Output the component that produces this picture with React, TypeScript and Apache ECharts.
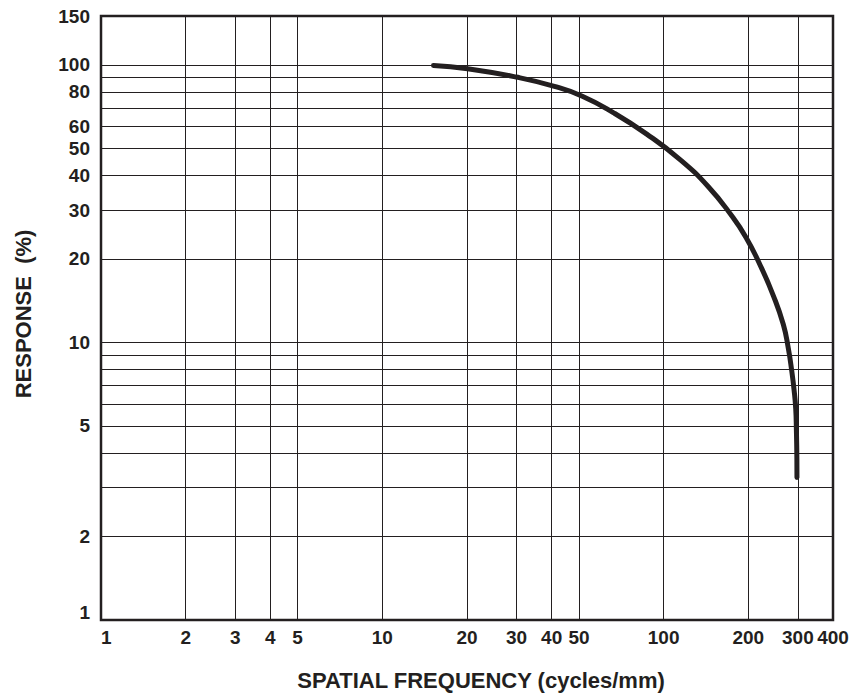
import React, { useEffect, useRef } from "react";
import * as echarts from "echarts";

// Tick labels and grid lines (real values)
const X_LABELS = [1, 2, 3, 4, 5, 10, 20, 30, 40, 50, 100, 200, 300, 400];
const X_GRID = [2, 3, 4, 5, 10, 20, 30, 40, 50, 100, 200, 300];
const Y_LABELS = [1, 2, 5, 10, 20, 30, 40, 50, 60, 80, 100, 150];
const Y_GRID = [2, 3, 4, 5, 6, 7, 8, 9, 10, 20, 30, 40, 50, 60, 70, 80, 90, 100];

// Response curve (spatial frequency in cycles/mm, response in %)
const FREQ = [15.2, 20.1, 29.9, 40.9, 51.4, 66.2, 87.1, 114.4, 144.2, 174.6, 196.3, 220.0, 245.4, 266.4, 277.5, 285.3, 290.8, 294.8, 296.4, 297.6, 297.8];
const RESP = [99.5, 96.9, 90.4, 83.7, 77.1, 67.3, 56.3, 45.6, 36.4, 28.6, 23.9, 19.05, 14.75, 11.6, 9.52, 7.91, 6.76, 5.78, 4.86, 3.82, 3.26];

const X_MIN = 1;
const X_MAX = 400;
const Y_MIN = 1;
const Y_MAX = 150;

const INK = "#231f20";
const FONT = "'Liberation Sans', Arial, Helvetica, sans-serif";

const lg = (v: number) => Math.log10(v);

export default function App() {
  const ref = useRef<HTMLDivElement>(null);

  useEffect(() => {
    if (!ref.current) return;
    const chart = echarts.init(ref.current, undefined, { renderer: "svg" });
    const data = FREQ.map((f, i) => [lg(f), lg(RESP[i])]);
    const fmt = (v: number) => String(Math.round(Math.pow(10, v)));

    chart.setOption({
      animation: false,
      backgroundColor: "#ffffff",
      grid: {
        left: 101,
        right: 22,
        top: 16,
        bottom: 73,
        show: true,
        borderColor: INK,
        borderWidth: 2.5,
        containLabel: false,
      },
      xAxis: {
        type: "value",
        min: lg(X_MIN),
        max: lg(X_MAX),
        axisLine: { show: false },
        axisTick: { show: false, customValues: X_GRID.map(lg) },
        splitLine: { show: true, lineStyle: { color: INK, width: 1 } },
        axisLabel: {
          customValues: X_LABELS.map(lg),
          formatter: fmt,
          color: INK,
          fontFamily: FONT,
          fontWeight: "bold",
          fontSize: 19,
          margin: 8,
          alignMinLabel: "left",
          alignMaxLabel: "center",
          showMinLabel: true,
          showMaxLabel: true,
          hideOverlap: false,
        },
        name: "SPATIAL FREQUENCY (cycles/mm)",
        nameLocation: "middle",
        nameGap: 49,
        nameTextStyle: {
          color: INK,
          fontFamily: FONT,
          fontWeight: "bold",
          fontSize: 22,
          padding: [0, 0, 0, 28],
        },
      },
      yAxis: {
        type: "value",
        min: lg(Y_MIN),
        max: lg(Y_MAX),
        axisLine: { show: false },
        axisTick: { show: false, customValues: Y_GRID.map(lg) },
        splitLine: { show: true, lineStyle: { color: INK, width: 1 } },
        axisLabel: {
          customValues: Y_LABELS.map(lg),
          formatter: (v: number) => {
            const s = fmt(v);
            return s === "1" ? "{lo|1}" : s;
          },
          rich: {
            lo: {
              color: INK,
              fontFamily: FONT,
              fontWeight: "bold",
              fontSize: 19,
              padding: [0, 0, 16, 0],
            },
          },
          color: INK,
          fontFamily: FONT,
          fontWeight: "bold",
          fontSize: 19,
          margin: 11,
          showMinLabel: true,
          showMaxLabel: true,
          hideOverlap: false,
        },
        name: "RESPONSE  (%)",
        nameLocation: "middle",
        nameGap: 67,
        nameTextStyle: {
          color: INK,
          fontFamily: FONT,
          fontWeight: "bold",
          fontSize: 22,
          padding: [0, 0, 0, 8],
        },
      },
      series: [
        {
          type: "line",
          data,
          smooth: 0.5,
          symbol: "none",
          clip: true,
          lineStyle: { color: INK, width: 5, cap: "round", join: "round" },
        },
      ],
    });

    return () => chart.dispose();
  }, []);

  return (
    <div
      ref={ref}
      style={{ position: "absolute", left: 0, top: 0, width: 855, height: 696 }}
    />
  );
}
